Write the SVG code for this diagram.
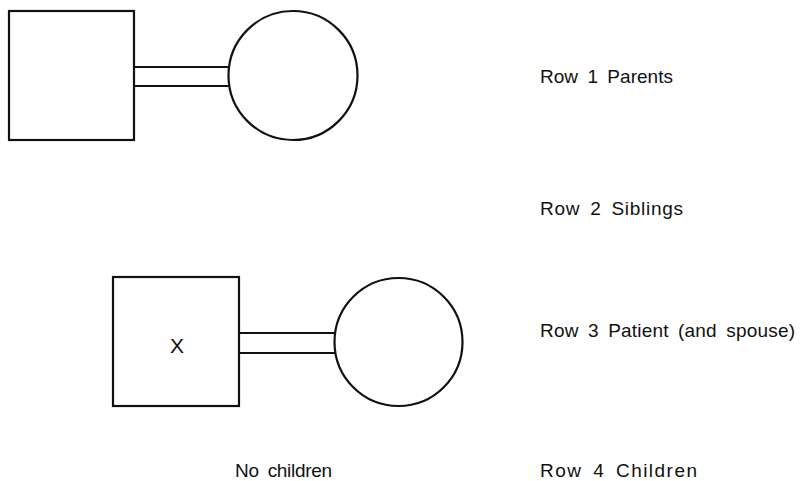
<svg xmlns="http://www.w3.org/2000/svg" width="801" height="481" viewBox="0 0 801 481">
  <style>
    .shape { fill: none; stroke: #111; stroke-width: 2.2; }
    .link { fill: none; stroke: #111; stroke-width: 2.2; }
    .label { font-family: "Liberation Sans", Arial, sans-serif; font-size: 19px; fill: #111; word-spacing: 4px; }
    .mark { font-family: "Liberation Sans", Arial, sans-serif; font-size: 21px; fill: #111; }
  </style>
  <rect width="801" height="481" fill="#fff"/>

  <!-- marriage connectors (double lines) -->
  <g id="connectors">
    <line class="link" x1="134" y1="67" x2="230" y2="67"/>
    <line class="link" x1="134" y1="86" x2="230" y2="86"/>
    <line class="link" x1="239" y1="333" x2="336" y2="333"/>
    <line class="link" x1="239" y1="353" x2="336" y2="353"/>
  </g>

  <!-- row 1: parents -->
  <g id="father">
    <rect class="shape" x="9" y="11" width="125" height="129"/>
  </g>
  <g id="mother">
    <circle class="shape" cx="293" cy="75.5" r="64.5"/>
  </g>

  <!-- row 3: patient and spouse -->
  <g id="patient">
    <rect class="shape" x="113" y="277" width="126" height="129"/>
    <text class="mark" x="177" y="353" text-anchor="middle">X</text>
  </g>
  <g id="spouse">
    <circle class="shape" cx="398.5" cy="342" r="64"/>
  </g>

  <g id="no-children">
    <text class="label" x="235" y="477" textLength="97" lengthAdjust="spacing">No children</text>
  </g>

  <!-- row captions -->
  <g id="captions">
    <text class="label" x="540" y="83" textLength="133" lengthAdjust="spacing">Row 1 Parents</text>
    <text class="label" x="540" y="215" textLength="143" lengthAdjust="spacing">Row 2 Siblings</text>
    <text class="label" x="540" y="337" textLength="255" lengthAdjust="spacing">Row 3 Patient (and spouse)</text>
    <text class="label" x="540" y="477" textLength="157" lengthAdjust="spacing">Row 4 Children</text>
  </g>
</svg>
